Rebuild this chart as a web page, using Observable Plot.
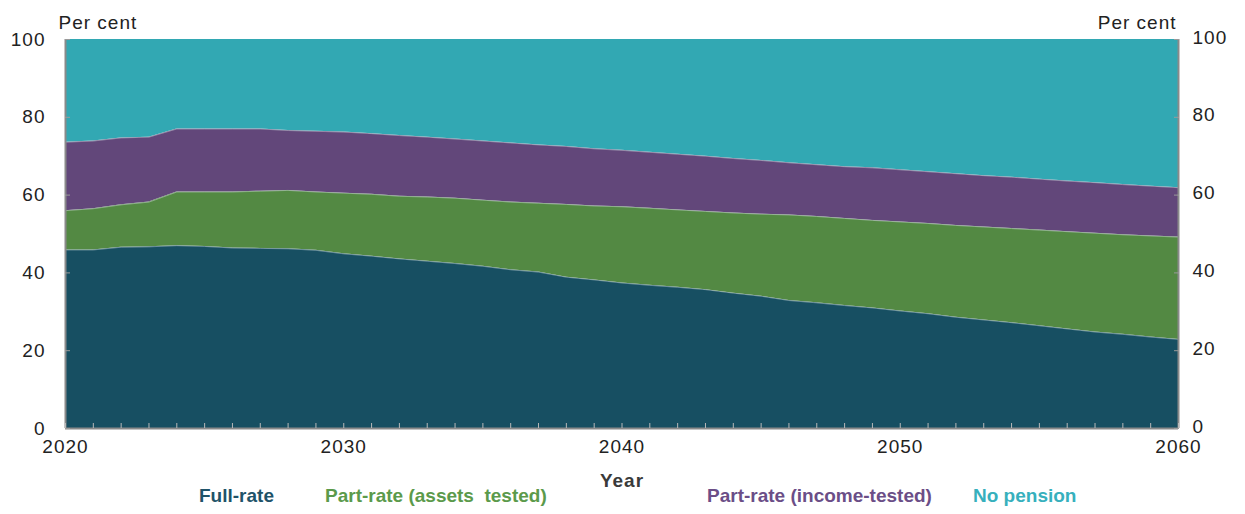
<!DOCTYPE html>
<html>
<head>
<meta charset="utf-8">
<script src="https://cdn.jsdelivr.net/npm/d3@7"></script>
<script src="https://cdn.jsdelivr.net/npm/@observablehq/plot@0.6"></script>
<style>
  html, body { margin: 0; padding: 0; background: #fff; }
  body { width: 1245px; height: 514px; overflow: hidden; font-family: "Liberation Sans", Arial, sans-serif; }
  #chart { position: relative; width: 1245px; height: 514px; }
  #legend { position: absolute; left: 0; top: 484px; width: 1245px; height: 28px; font-weight: bold; font-size: 19px; }
  #legend span { position: absolute; top: 0px; white-space: pre; line-height: 24px; }
</style>
</head>
<body>
<div id="chart"><div id="legend"></div></div>
<script>
// Share of the age-pension-eligible population by pension status, per cent
const years = d3.range(2020, 2061);

const fullRate = [45.9, 45.9, 46.6, 46.7, 47.0, 46.8, 46.4, 46.3, 46.2, 45.8,
                  44.9, 44.3, 43.6, 43.0, 42.4, 41.7, 40.8, 40.2, 38.9, 38.2,
                  37.4, 36.8, 36.3, 35.7, 34.8, 34.0, 32.9, 32.3, 31.6, 31.0,
                  30.2, 29.5, 28.6, 27.9, 27.2, 26.4, 25.6, 24.8, 24.2, 23.5, 22.9];

const assetsTested = [10.1, 10.6, 10.9, 11.5, 13.8, 14.0, 14.4, 14.7, 15.0, 15.0,
                      15.6, 15.9, 16.1, 16.5, 16.8, 17.0, 17.4, 17.7, 18.7, 19.0,
                      19.6, 19.8, 19.9, 20.1, 20.6, 21.1, 22.0, 22.2, 22.4, 22.5,
                      22.9, 23.2, 23.6, 23.9, 24.2, 24.6, 25.0, 25.4, 25.6, 26.0, 26.3];

const incomeTested = [17.6, 17.4, 17.2, 16.7, 16.2, 16.2, 16.2, 16.0, 15.4, 15.6,
                      15.7, 15.6, 15.6, 15.4, 15.2, 15.2, 15.2, 15.0, 14.9, 14.7,
                      14.5, 14.4, 14.3, 14.2, 14.0, 13.8, 13.4, 13.3, 13.3, 13.5,
                      13.4, 13.3, 13.3, 13.2, 13.2, 13.1, 13.0, 13.0, 12.9, 12.8, 12.7];

const noPension = [26.4, 26.1, 25.3, 25.1, 23.0, 23.0, 23.0, 23.0, 23.4, 23.6,
                   23.8, 24.2, 24.7, 25.1, 25.6, 26.1, 26.6, 27.1, 27.5, 28.1,
                   28.5, 29.0, 29.5, 30.0, 30.6, 31.1, 31.7, 32.2, 32.7, 33.0,
                   33.5, 34.0, 34.5, 35.0, 35.4, 35.9, 36.4, 36.8, 37.3, 37.7, 38.1];

const seriesNames = ["Full-rate", "Part-rate (assets  tested)", "Part-rate (income-tested)", "No pension"];
const seriesValues = [fullRate, assetsTested, incomeTested, noPension];
const fillColors = ["#174f62", "#538943", "#62477a", "#32a8b3"];
const legendColors = ["#1f5369", "#5b9a4b", "#6b4e87", "#37b0bd"];

const yTicks = [0, 20, 40, 60, 80, 100];
const xLabelTicks = [2020, 2030, 2040, 2050, 2060];

// long-format table for the stacked areas
const rows = [];
seriesNames.forEach((name, i) => {
  years.forEach((year, j) => rows.push({year, series: name, value: seriesValues[i][j]}));
});

const stackOpts = {x: "year", y: "value", z: "series", order: seriesNames};
const axisFont = {fontSize: 19, fill: "#222"};

const chart = Plot.plot({
  width: 1245,
  height: 514,
  marginLeft: 65,
  marginRight: 67,
  marginTop: 39,
  marginBottom: 86,
  style: {fontFamily: "'Liberation Sans', Arial, sans-serif", fontSize: "19px", letterSpacing: "1px", color: "#222", background: "#fff"},
  x: {domain: [2020, 2060], label: null},
  y: {domain: [0, 100], label: null},
  color: {domain: seriesNames, range: fillColors},
  marks: [
    Plot.areaY(rows, {...stackOpts, fill: "series"}),
    // faint light seams between the bands
    Plot.lineY(rows.filter(d => d.series !== "No pension"),
      Plot.stackY2({...stackOpts, stroke: "#d8e4e6", strokeOpacity: 0.55, strokeWidth: 0.8})),
    // frame: left, right and bottom edges
    Plot.ruleX([2020, 2060], {stroke: "#8a8a8a", strokeWidth: 2}),
    Plot.ruleY([0], {stroke: "#8a8a8a", strokeWidth: 2}),
    // yearly minor ticks pointing up from the baseline
    Plot.axisX({ticks: years, tickSize: -5, stroke: "#b9b9b9", text: null, label: null}),
    Plot.axisX({ticks: xLabelTicks, tickSize: 0, tickPadding: 11, tickFormat: d => String(d), label: null, ...axisFont}),
    // inward ticks on both vertical axes
    Plot.axisY({anchor: "left", ticks: yTicks, tickSize: -5, stroke: "#9a9a9a", text: null, label: null}),
    Plot.axisY({anchor: "right", ticks: yTicks, tickSize: -5, stroke: "#9a9a9a", text: null, label: null}),
    Plot.axisY({anchor: "left", ticks: yTicks, tickSize: 0, tickPadding: 20, label: null, ...axisFont}),
    Plot.axisY({anchor: "right", ticks: yTicks, tickSize: 0, tickPadding: 14, dy: -2, label: null, ...axisFont}),
    Plot.text(["Per cent"], {frameAnchor: "top-left", textAnchor: "start", lineAnchor: "middle", dx: -7, dy: -17, ...axisFont}),
    Plot.text(["Per cent"], {frameAnchor: "top-right", textAnchor: "end", lineAnchor: "middle", dx: -2, dy: -17, ...axisFont}),
    Plot.text(["Year"], {frameAnchor: "bottom", lineAnchor: "middle", dy: 52, fontSize: 19, fill: "#3a3a3a", fontWeight: "bold"})
  ]
});
document.getElementById("chart").insertBefore(chart, document.getElementById("legend"));

// legend row under the axis title
const legendLeft = [199, 325, 707, 973];
const legend = document.getElementById("legend");
seriesNames.forEach((name, i) => {
  const s = document.createElement("span");
  s.textContent = name;
  s.style.left = legendLeft[i] + "px";
  s.style.color = legendColors[i];
  legend.appendChild(s);
});
</script>
</body>
</html>
